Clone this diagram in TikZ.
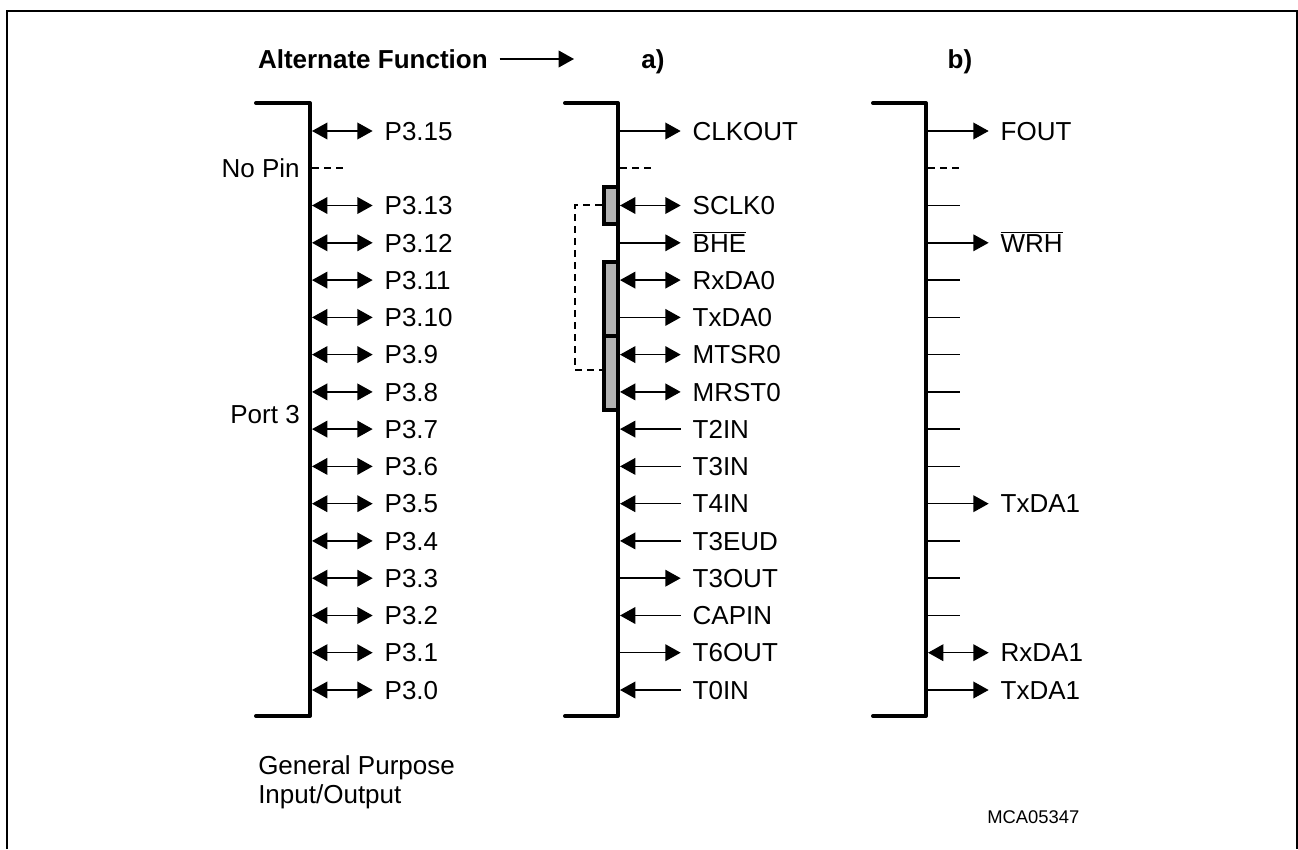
\documentclass[tikz,border=0pt]{standalone}
\usepackage{fontspec}
\setmainfont{Liberation Sans}
\usetikzlibrary{arrows.meta,positioning}

\begin{document}
\begin{tikzpicture}[
    x=.75pt, y=-.75pt,
    node distance=5mm and 45.5pt,
    txt/.style={inner sep=0pt, font=\fontsize{19.5pt}{21.75pt}\selectfont},
    pin/.style={txt, outer sep=9pt, text height=13.9pt, text depth=0pt},
    head/.style={pin, font=\fontsize{19.5pt}{21.75pt}\selectfont\bfseries, anchor=west},
    bar/.style={line width=3pt, line cap=round, line join=round},
    arrout/.style={-{Triangle[length=11.5pt, width=12.5pt]}, line width=1.1pt},
    arrin/.style={{Triangle[length=11.5pt, width=12.5pt]}-, line width=1.1pt},
    arrboth/.style={{Triangle[length=11.5pt, width=12.5pt]}-{Triangle[length=11.5pt, width=12.5pt]}, line width=1.1pt},
    stub/.style={line width=1.1pt},
    nopin/.style={line width=1.4pt, dash pattern=on 5pt off 4pt},
    shade/.style={rectangle, draw, line width=3pt, fill=black!30, inner sep=0pt, minimum width=11pt}
  ]
    \useasboundingbox (0,0) rectangle (1298,849);

    % frame
    \coordinate (f1) at (7,849);
    \coordinate (f2) at (7,11);
    \coordinate (f3) at (1297,11);
    \coordinate (f4) at (1297,849);
    \draw[line width=2pt] (f1) -- (f2) -- (f3) -- (f4);

    % heading
    \node[head] (altf) at (246,59) {Alternate Function};
    \coordinate (altend) at (574,59);
    \draw[arrout] (altf) -- (altend);
    \node[head] (cola) at (641,59) [anchor=center, xshift=9pt] {a)};
    \node[head] (colb) at (948,59) [anchor=center, xshift=9pt] {b)};

    % general purpose column
    \coordinate (gt) at (256,103);
    \coordinate (gu) at (310,103);
    \coordinate (gd) at (310,716);
    \coordinate (gb) at (256,716);
    \draw[bar] (gt) -- (gu) -- (gd) -- (gb);
    \coordinate (g15) at (312,131);
    \coordinate (g14) at (312,168.3);
    \coordinate (g13) at (312,205.5);
    \coordinate (g12) at (312,242.8);
    \coordinate (g11) at (312,280.1);
    \coordinate (g10) at (312,317.4);
    \coordinate (g9) at (312,354.6);
    \coordinate (g8) at (312,391.9);
    \coordinate (g7) at (312,429.1);
    \coordinate (g6) at (312,466.4);
    \coordinate (g5) at (312,503.7);
    \coordinate (g4) at (312,540.9);
    \coordinate (g3) at (312,578.2);
    \coordinate (g2) at (312,615.5);
    \coordinate (g1) at (312,652.7);
    \coordinate (g0) at (312,690);
    \coordinate (gdash) at (344,168.3);
    \node[pin, right=of g15] (lg15) {P3.15};
    \node[pin, right=of g13] (lg13) {P3.13};
    \node[pin, right=of g12] (lg12) {P3.12};
    \node[pin, right=of g11] (lg11) {P3.11};
    \node[pin, right=of g10] (lg10) {P3.10};
    \node[pin, right=of g9] (lg9) {P3.9};
    \node[pin, right=of g8] (lg8) {P3.8};
    \node[pin, right=of g7] (lg7) {P3.7};
    \node[pin, right=of g6] (lg6) {P3.6};
    \node[pin, right=of g5] (lg5) {P3.5};
    \node[pin, right=of g4] (lg4) {P3.4};
    \node[pin, right=of g3] (lg3) {P3.3};
    \node[pin, right=of g2] (lg2) {P3.2};
    \node[pin, right=of g1] (lg1) {P3.1};
    \node[pin, right=of g0] (lg0) {P3.0};
    \draw[arrboth] (g15) -- (lg15);
    \draw[nopin] (g14) -- (gdash);
    \draw[arrboth] (g13) -- (lg13);
    \draw[arrboth] (g12) -- (lg12);
    \draw[arrboth] (g11) -- (lg11);
    \draw[arrboth] (g10) -- (lg10);
    \draw[arrboth] (g9) -- (lg9);
    \draw[arrboth] (g8) -- (lg8);
    \draw[arrboth] (g7) -- (lg7);
    \draw[arrboth] (g6) -- (lg6);
    \draw[arrboth] (g5) -- (lg5);
    \draw[arrboth] (g4) -- (lg4);
    \draw[arrboth] (g3) -- (lg3);
    \draw[arrboth] (g2) -- (lg2);
    \draw[arrboth] (g1) -- (lg1);
    \draw[arrboth] (g0) -- (lg0);
    \node[txt, anchor=east] (nopintxt) at (300,168.3) {No Pin};
    \node[txt, anchor=east] (port) at (300,415) {Port 3};
    \node[txt, anchor=north west, align=left] (gpio) at (258,755) {General Purpose\\Input/Output};

    % column a)
    \node[shade, minimum height=27.4pt] (boxs) at (611,205.75) {};
    \node[shade, minimum height=56.2pt] (boxr) at (611,299) {};
    \node[shade, minimum height=54.8pt] (boxm) at (611,373) {};
    \coordinate (at) at (565,103);
    \coordinate (au) at (618,103);
    \coordinate (ad) at (618,716);
    \coordinate (ab) at (565,716);
    \draw[bar] (at) -- (au) -- (ad) -- (ab);
    \coordinate (d1) at (575,205);
    \coordinate (d2) at (575,370);
    \draw[nopin] (boxs.west |- d1) -- (d1) -- (d2) -- (boxm.west |- d2);
    \coordinate (a15) at (620,131);
    \coordinate (a14) at (620,168.3);
    \coordinate (a13) at (620,205.5);
    \coordinate (a12) at (620,242.8);
    \coordinate (a11) at (620,280.1);
    \coordinate (a10) at (620,317.4);
    \coordinate (a9) at (620,354.6);
    \coordinate (a8) at (620,391.9);
    \coordinate (a7) at (620,429.1);
    \coordinate (a6) at (620,466.4);
    \coordinate (a5) at (620,503.7);
    \coordinate (a4) at (620,540.9);
    \coordinate (a3) at (620,578.2);
    \coordinate (a2) at (620,615.5);
    \coordinate (a1) at (620,652.7);
    \coordinate (a0) at (620,690);
    \coordinate (adash) at (652,168.3);
    \node[pin, right=of a15] (clkout) {CLKOUT};
    \node[pin, right=of a13] (sclk) {SCLK0};
    \node[pin, right=of a12] (bhe) {$\overline{\mbox{BHE}}$};
    \node[pin, right=of a11] (rxda) {RxDA0};
    \node[pin, right=of a10] (txda) {TxDA0};
    \node[pin, right=of a9] (mtsr) {MTSR0};
    \node[pin, right=of a8] (mrst) {MRST0};
    \node[pin, right=of a7] (t2in) {T2IN};
    \node[pin, right=of a6] (t3in) {T3IN};
    \node[pin, right=of a5] (t4in) {T4IN};
    \node[pin, right=of a4] (t3eud) {T3EUD};
    \node[pin, right=of a3] (t3out) {T3OUT};
    \node[pin, right=of a2] (capin) {CAPIN};
    \node[pin, right=of a1] (t6out) {T6OUT};
    \node[pin, right=of a0] (t0in) {T0IN};
    \draw[arrout] (a15) -- (clkout);
    \draw[nopin] (a14) -- (adash);
    \draw[arrboth] (a13) -- (sclk);
    \draw[arrout] (a12) -- (bhe);
    \draw[arrboth] (a11) -- (rxda);
    \draw[arrout] (a10) -- (txda);
    \draw[arrboth] (a9) -- (mtsr);
    \draw[arrboth] (a8) -- (mrst);
    \draw[arrin] (a7) -- (t2in);
    \draw[arrin] (a6) -- (t3in);
    \draw[arrin] (a5) -- (t4in);
    \draw[arrin] (a4) -- (t3eud);
    \draw[arrout] (a3) -- (t3out);
    \draw[arrin] (a2) -- (capin);
    \draw[arrout] (a1) -- (t6out);
    \draw[arrin] (a0) -- (t0in);

    % column b)
    \coordinate (bt) at (873,103);
    \coordinate (bu) at (926,103);
    \coordinate (bd) at (926,716);
    \coordinate (bb) at (873,716);
    \draw[bar] (bt) -- (bu) -- (bd) -- (bb);
    \coordinate (b15) at (928,131);
    \coordinate (b14) at (928,168.3);
    \coordinate (b13) at (928,205.5);
    \coordinate (b12) at (928,242.8);
    \coordinate (b11) at (928,280.1);
    \coordinate (b10) at (928,317.4);
    \coordinate (b9) at (928,354.6);
    \coordinate (b8) at (928,391.9);
    \coordinate (b7) at (928,429.1);
    \coordinate (b6) at (928,466.4);
    \coordinate (b5) at (928,503.7);
    \coordinate (b4) at (928,540.9);
    \coordinate (b3) at (928,578.2);
    \coordinate (b2) at (928,615.5);
    \coordinate (b1) at (928,652.7);
    \coordinate (b0) at (928,690);
    \coordinate (bdash) at (960,168.3);
    \coordinate (s13) at (960,205.5);
    \coordinate (s11) at (960,280.1);
    \coordinate (s10) at (960,317.4);
    \coordinate (s9) at (960,354.6);
    \coordinate (s8) at (960,391.9);
    \coordinate (s7) at (960,429.1);
    \coordinate (s6) at (960,466.4);
    \coordinate (s4) at (960,540.9);
    \coordinate (s3) at (960,578.2);
    \coordinate (s2) at (960,615.5);
    \node[pin, right=of b15] (fout) {FOUT};
    \node[pin, right=of b12] (wrh) {$\overline{\mbox{WRH}}$};
    \node[pin, right=of b5] (txdb) {TxDA1};
    \node[pin, right=of b1] (rxdb) {RxDA1};
    \node[pin, right=of b0] (txdc) {TxDA1};
    \draw[arrout] (b15) -- (fout);
    \draw[nopin] (b14) -- (bdash);
    \draw[stub] (b13) -- (s13);
    \draw[arrout] (b12) -- (wrh);
    \draw[stub] (b11) -- (s11);
    \draw[stub] (b10) -- (s10);
    \draw[stub] (b9) -- (s9);
    \draw[stub] (b8) -- (s8);
    \draw[stub] (b7) -- (s7);
    \draw[stub] (b6) -- (s6);
    \draw[arrout] (b5) -- (txdb);
    \draw[stub] (b4) -- (s4);
    \draw[stub] (b3) -- (s3);
    \draw[stub] (b2) -- (s2);
    \draw[arrboth] (b1) -- (rxdb);
    \draw[arrout] (b0) -- (txdc);

    \node[inner sep=0pt, font=\fontsize{13.8pt}{16pt}\selectfont, anchor=west] (code) at (987,817) {MCA05347};
  \end{tikzpicture}
\end{document}
